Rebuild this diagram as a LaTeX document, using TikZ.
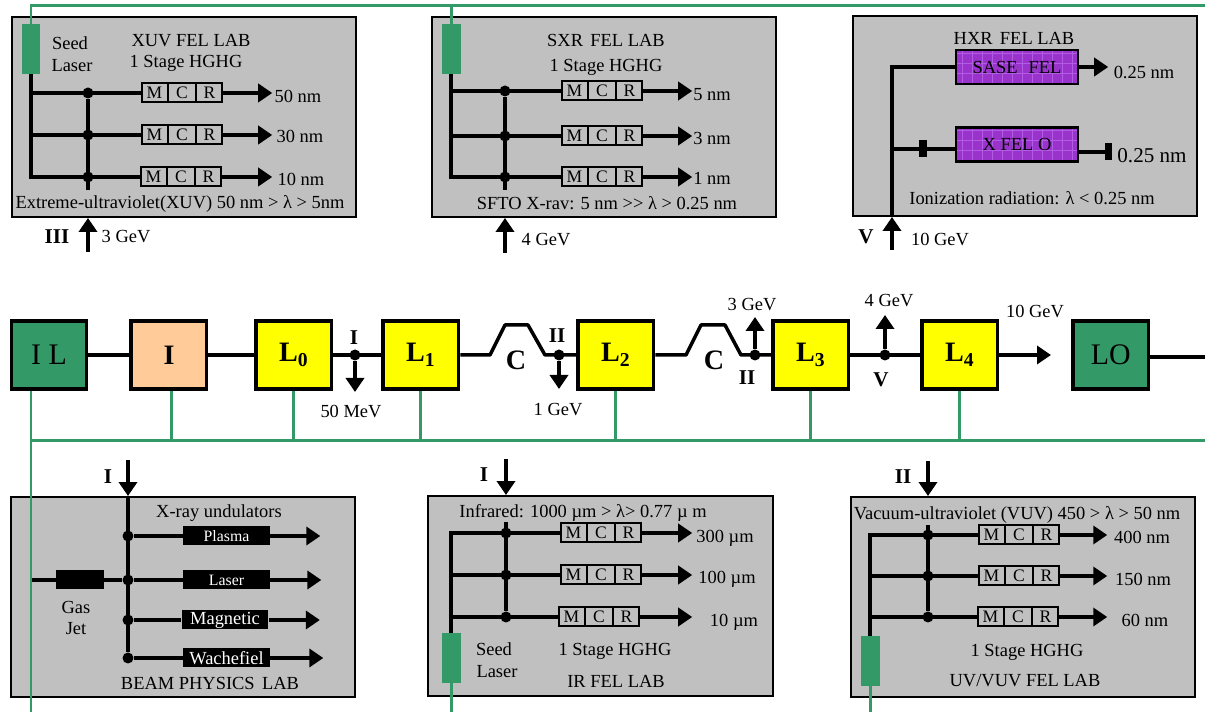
\documentclass[tikz,border=0pt]{standalone}
\usepackage{fontspec}
\setmainfont{Liberation Serif}
\usetikzlibrary{arrows.meta,positioning,shapes.multipart}
\definecolor{labgray}{RGB}{192,192,192}
\definecolor{dkgreen}{RGB}{51,153,102}
\definecolor{peach}{RGB}{255,204,153}
\definecolor{felpurple}{RGB}{153,51,204}
\definecolor{felgrid}{RGB}{178,92,228}
\definecolor{linacyellow}{RGB}{255,255,0}
\begin{document}
\begin{tikzpicture}[x=.02cm,y=-.02cm,
 lab/.style={draw=black,line width=.04cm,fill=labgray,minimum width=6.9cm,minimum height=4cm,inner sep=0},
 seed/.style={fill=dkgreen,minimum width=.38cm,minimum height=1cm,inner sep=0},
 mcr/.style={rectangle split,rectangle split horizontal,rectangle split parts=3,draw=black,line width=.04cm,fill=labgray,inner xsep=.05cm,inner ysep=0,text width=.41cm,align=center,minimum height=.38cm,font=\fontsize{10}{11}\selectfont},
 fel/.style={draw=black,line width=.05cm,fill=felpurple,minimum width=2.44cm,minimum height=.68cm,inner sep=0,font=\fontsize{10.5}{12}\selectfont,
  path picture={\draw[felgrid,line width=.3pt,step=.2cm] (path picture bounding box.south west) grid (path picture bounding box.north east);}},
 und/.style={fill=black,text=white,minimum width=1.74cm,minimum height=.38cm,inner sep=0},
 blk/.style={fill=black,inner sep=0},
 dot/.style={circle,fill=black,minimum size=.22cm,inner sep=0},
 txt/.style={inner sep=0,text height=7pt,text depth=0pt,font=\fontsize{10.5}{12}\selectfont},
 rom/.style={inner sep=0,text height=8pt,text depth=0pt,font=\fontsize{12}{14}\selectfont\bfseries},
 unit/.style={draw=black,line width=.07cm,minimum width=1.51cm,minimum height=1.37cm,inner sep=0,font=\fontsize{17}{19}\selectfont},
 linac/.style={unit,fill=linacyellow,font=\fontsize{16}{18}\selectfont\bfseries},
 wire/.style={line width=.07cm,draw=black},
 arr/.style={-{Triangle[length=.28cm,width=.36cm]},line width=.07cm,draw=black},
 gline/.style={line width=.06cm,draw=dkgreen}]
\useasboundingbox (0,0) rectangle (1205,712);
\coordinate (topE) at (1205,5.5);
\coordinate (busW) at (31,441);
\coordinate (busE) at (1205,441);
\coordinate (botW) at (31,713.3);
\coordinate (botE) at (1205,713.3);
\coordinate (lineE) at (1205,357);
\node[lab] (xuv) at (184,117) {};
\node[seed] (seedx) at (31,49) {};
\node[txt] at (70,43) {Seed};
\node[txt] at (72,65) {Laser};
\node[txt] at (191,40) {XUV FEL LAB};
\node[txt] at (186,61) {1 Stage HGHG};
\node[mcr] (xa) at (182,93) {M\nodepart{two}C\nodepart{three}R};
\node[mcr] (xb) at (182,135) {M\nodepart{two}C\nodepart{three}R};
\node[mcr] (xc) at (181,177) {M\nodepart{two}C\nodepart{three}R};
\node[dot] (xd1) at (88,93) {};
\node[dot] (xd2) at (88,135) {};
\node[dot] (xd3) at (88,177) {};
\coordinate (xend) at (88,190);
\node[txt] (xt1) at (298,96) {50 nm};
\node[txt] (xt2) at (300,136) {30 nm};
\node[txt] (xt3) at (301,179) {10 nm};
\node[txt] at (180,202) {Extreme-ultraviolet(XUV) 50 nm > λ > 5nm};
\coordinate (xin) at (88,252);
\node[rom] at (57,236) {III};
\node[txt] at (126,236) {3 GeV};
\draw[wire] (seedx.south) |- (xc.west);
\draw[wire] (seedx.south |- xa.west) -- (xa.west);
\draw[wire] (seedx.south |- xb.west) -- (xb.west);
\draw[wire] (xd1) -- (xend);
\draw[arr] (xa.east) -- ++(49,0);
\draw[arr] (xb.east) -- ++(49,0);
\draw[arr] (xc.east) -- ++(50,0);
\draw[arr] (xin) -- (xin |- xuv.south);
\node[lab] (sxr) at (604,117) {};
\node[seed] (seeds) at (451,49) {};
\node[txt] at (606,40) {SXR\hspace{.4em}FEL LAB};
\node[txt] at (606,65) {1 Stage HGHG};
\node[mcr] (sa) at (602,91) {M\nodepart{two}C\nodepart{three}R};
\node[mcr] (sb) at (602,136) {M\nodepart{two}C\nodepart{three}R};
\node[mcr] (sc) at (602,177) {M\nodepart{two}C\nodepart{three}R};
\node[dot] (sd1) at (505,91) {};
\node[dot] (sd2) at (505,136) {};
\node[dot] (sd3) at (505,177) {};
\coordinate (send) at (505,190);
\node[txt] (st1) at (712,94) {5 nm};
\node[txt] (st2) at (712,138) {3 nm};
\node[txt] (st3) at (712,178) {1 nm};
\node[txt] at (607,203) {SFTO X-rav: 5 nm >{}> λ > 0.25 nm};
\coordinate (sin) at (505,253);
\node[txt] at (546,239) {4 GeV};
\draw[wire] (seeds.south) |- (sc.west);
\draw[wire] (seeds.south |- sa.west) -- (sa.west);
\draw[wire] (seeds.south |- sb.west) -- (sb.west);
\draw[wire] (sd1) -- (send);
\draw[arr] (sa.east) -- ++(49,0);
\draw[arr] (sb.east) -- ++(49,0);
\draw[arr] (sc.east) -- ++(49,0);
\draw[arr] (sin) -- (sin |- sxr.south);
\node[lab] (hxr) at (1025,116) {};
\node[txt] at (1014,38) {HXR\hspace{.4em}FEL LAB};
\node[fel] (sase) at (1017,67) {SASE\hspace{.6em}FEL};
\node[fel] (xfel) at (1017,144.5) {X FEL O};
\node[blk,minimum width=.16cm,minimum height=.34cm] (stopa) at (923,149) {};
\node[blk,minimum width=.14cm,minimum height=.34cm] (stopb) at (1108.5,152) {};
\node[txt] (ht1) at (1144,72) {0.25 nm};
\node[txt,text height=8pt,font=\fontsize{12}{14}\selectfont] at (1152,155) {0.25 nm};
\node[txt] at (1032,198) {Ionization radiation: λ < 0.25 nm};
\coordinate (vin) at (892,250);
\node[rom] at (866,236) {V};
\node[txt] at (940,239) {10 GeV};
\draw[wire] (vin |- hxr.south) |- (sase.west);
\draw[wire] (vin |- stopa) -- (stopa);
\draw[wire] (stopa) -- (stopa -| xfel.west);
\draw[wire] (xfel.east |- stopb) -- (stopb);
\draw[arr] (sase.east) -- ++(29,0);
\draw[arr] (vin) -- (vin |- hxr.south);
\node[unit,fill=dkgreen] (il) at (49,355) {\raisebox{-.05cm}{I L}};
\node[unit,fill=peach,right=.82cm of il,font=\fontsize{16}{18}\selectfont\bfseries] (inj) {\raisebox{-.05cm}{I}};
\node[linac,right=.92cm of inj] (l0) {\raisebox{-.05cm}{L\textsubscript{0}}};
\node[linac,right=.96cm of l0] (l1) {\raisebox{-.05cm}{L\textsubscript{1}}};
\node[linac,right=2.32cm of l1] (l2) {\raisebox{-.05cm}{L\textsubscript{2}}};
\node[linac,right=2.32cm of l2] (l3) {\raisebox{-.05cm}{L\textsubscript{3}}};
\node[linac,right=1.4cm of l3] (l4) {\raisebox{-.05cm}{L\textsubscript{4}}};
\node[unit,fill=dkgreen,right=1.44cm of l4] (lo) {LO};
\node[dot] (j1) at (355,355) {};
\node[dot] (j2) at (559,355) {};
\node[dot] (j3) at (755,355) {};
\node[dot] (j4) at (885,355) {};
\coordinate (d1) at (355,392);
\coordinate (d2) at (559,389);
\coordinate (u3) at (755,317);
\coordinate (u4) at (885,315);
\coordinate (e4) at (1051,355);
\node[rom] at (354,337) {I};
\node[txt] at (351,411) {50 MeV};
\node[rom] at (557,335) {II};
\node[txt] at (558,409) {1 GeV};
\node[rom,text height=11pt,font=\fontsize{16}{18}\selectfont\bfseries] at (516,360) {C};
\node[rom,text height=11pt,font=\fontsize{16}{18}\selectfont\bfseries] at (714,360) {C};
\node[txt] at (752,304) {3 GeV};
\node[rom] at (747,377) {II};
\node[txt] at (889,300) {4 GeV};
\node[rom] at (881,379) {V};
\node[txt] at (1035,311) {10 GeV};
\draw[wire] (il) -- (inj);
\draw[wire] (inj) -- (l0);
\draw[wire] (l0) -- (l1);
\draw[wire,line join=round] (l1.east) -- (490,355) -- (505,325) -- (528,325) -- (545,355) -- (l2.west);
\draw[wire,line join=round] (l2.east) -- (686,355) -- (701,325) -- (725,325) -- (741,355) -- (l3.west);
\draw[wire] (l3) -- (l4);
\draw[arr] (l4.east) -- (e4);
\draw[wire] (lo.east |- lineE) -- (lineE);
\draw[arr] (j1) -- (d1);
\draw[arr] (j2) -- (d2);
\draw[arr] (j3) -- (u3);
\draw[arr] (j4) -- (u4);
\draw[gline] ([xshift=.05cm]inj.south) -- ([xshift=.05cm]inj.south |- busW);
\draw[gline] (l0.south) -- (l0.south |- busW);
\draw[gline] (l1.south) -- (l1.south |- busW);
\draw[gline] (l2.south) -- (l2.south |- busW);
\draw[gline] (l3.south) -- (l3.south |- busW);
\draw[gline] (l4.south) -- (l4.south |- busW);
\draw[gline] (busW) -- (busE);
\node[lab] (beam) at (183,597) {};
\coordinate (bin) at (128,460);
\node[rom] at (108,476) {I};
\node[txt] at (219,511) {X-ray undulators};
\node[und,font=\fontsize{9}{10}\selectfont] (plasma) at (226.5,536) {Plasma};
\node[und,font=\fontsize{9}{10}\selectfont] (laser) at (226.5,580) {Laser};
\node[und,font=\fontsize{10.5}{12}\selectfont] (magn) at (225,620) {Magnetic};
\node[und,font=\fontsize{10.5}{12}\selectfont] (wach) at (226.5,658) {Wachefiel};
\node[und,minimum width=.96cm] (gas) at (80,580) {};
\node[txt] at (76,607) {Gas};
\node[txt] at (76,628) {Jet};
\node[txt] at (210,683) {BEAM PHYSICS\hspace{.4em}LAB};
\node[dot] (b1) at (128,536) {};
\node[dot] (b2) at (128,580) {};
\node[dot] (b3) at (128,620) {};
\node[dot] (b4) at (128,658) {};
\draw[arr] (bin) -- (bin |- beam.north);
\draw[wire] (bin |- beam.north) -- (b4);
\draw[wire] (b1) -- (plasma);
\draw[wire] (b2) -- (laser);
\draw[wire] (b3) -- (magn);
\draw[wire] (b4) -- (wach);
\draw[wire] (b2) -- (gas);
\draw[wire] (gas) -- (gas -| busW);
\draw[arr] (plasma.east) -- ++(50,0);
\draw[arr] (laser.east) -- ++(51,0);
\draw[arr] (magn.east) -- ++(51,0);
\draw[arr] (wach.east) -- ++(53,0);
\draw[gline] (busW |- il.south) -- (botW);
\draw[gline] (botW) -- (botE);
\node[lab] (ir) at (600.5,596) {};
\coordinate (iin) at (506,459);
\node[rom] at (484,474) {I};
\node[txt] at (583,511) {Infrared: 1000 µm > λ> 0.77 µ m};
\node[mcr] (ia) at (601,533) {M\nodepart{two}C\nodepart{three}R};
\node[mcr] (ib) at (601,575) {M\nodepart{two}C\nodepart{three}R};
\node[mcr] (ic) at (599,617) {M\nodepart{two}C\nodepart{three}R};
\node[dot] (id1) at (506,533) {};
\node[dot] (id2) at (506,575) {};
\node[dot] (id3) at (506,617) {};
\coordinate (iend) at (506,522);
\node[txt] at (725,536) {300 µm};
\node[txt] at (727,577) {100 µm};
\node[txt] at (734,620) {10 µm};
\node[seed] (seedi) at (451,658) {};
\node[txt] at (494,649) {Seed};
\node[txt] at (497,671) {Laser};
\node[txt] at (615,649) {1 Stage HGHG};
\node[txt] at (616,681) {IR FEL LAB};
\draw[arr] (iin) -- (iin |- ir.north);
\draw[wire] (seedi.north) |- (ia.west);
\draw[wire] (seedi.north |- ib.west) -- (ib.west);
\draw[wire] (seedi.north |- ic.west) -- (ic.west);
\draw[wire] (iend) -- (id3);
\draw[arr] (ia.east) -- ++(50,0);
\draw[arr] (ib.east) -- ++(50,0);
\draw[arr] (ic.east) -- ++(52,0);
\draw[gline] (seedi.south) -- (seedi.south |- botW);
\node[lab] (vuv) at (1023,597) {};
\coordinate (vvin) at (928,461);
\node[rom] at (903,476) {II};
\node[txt] at (1017,513) {Vacuum-ultraviolet (VUV) 450 > λ > 50 nm};
\node[mcr] (va) at (1019,535) {M\nodepart{two}C\nodepart{three}R};
\node[mcr] (vb) at (1019,576) {M\nodepart{two}C\nodepart{three}R};
\node[mcr] (vc) at (1018,617) {M\nodepart{two}C\nodepart{three}R};
\node[dot] (vd1) at (928,535) {};
\node[dot] (vd2) at (928,576) {};
\node[dot] (vd3) at (928,617) {};
\coordinate (vend) at (928,525);
\node[txt] at (1142,537) {400 nm};
\node[txt] at (1143,579) {150 nm};
\node[txt] at (1145,620) {60 nm};
\node[seed] (seedv) at (870,661) {};
\node[txt] at (1027,650) {1 Stage HGHG};
\node[txt] at (1025,680) {UV/VUV FEL LAB};
\draw[arr] (vvin) -- (vvin |- vuv.north);
\draw[wire] (seedv.north) |- (va.west);
\draw[wire] (seedv.north |- vb.west) -- (vb.west);
\draw[wire] (seedv.north |- vc.west) -- (vc.west);
\draw[wire] (vend) -- (vd3);
\draw[arr] (va.east) -- ++(47,0);
\draw[arr] (vb.east) -- ++(47,0);
\draw[arr] (vc.east) -- ++(48,0);
\draw[gline] (seedv.south) -- (seedv.south |- botW);
\draw[gline] (seedx.north) |- (topE);
\draw[gline] (seeds.north) -- (seeds.north |- topE);
\end{tikzpicture}
\end{document}
